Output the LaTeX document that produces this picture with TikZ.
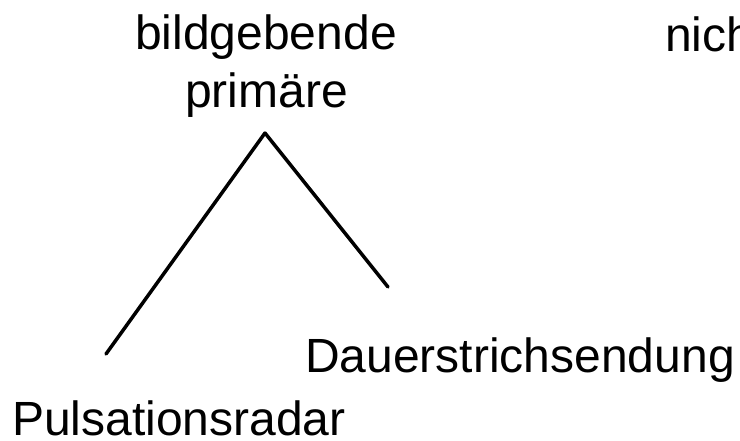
\documentclass[tikz,border=0pt]{standalone}
\usepackage{fontspec}
\setmainfont{Liberation Sans}
\begin{document}
\begin{tikzpicture}[x=1pt,y=-1pt,
  lbl/.style={anchor=base west,inner sep=0pt,text depth=0pt,font=\fontsize{48}{58}\selectfont},
  branch/.style={line width=3.5pt,line cap=round}]
\useasboundingbox (0,0) rectangle (740,441);
\node[lbl] (bild) at (135,50) {bildgebende};
\node[lbl] (prim) at (185,108) {primäre};
\node[lbl] (nich) at (665,52) {nich};
\node[lbl] (daue) at (305,372) {Dauerstrichsendung};
\node[lbl] (puls) at (12,435) {Pulsationsradar};
\coordinate (apex) at (265,133);
\coordinate (lend) at (106,354);
\coordinate (rend) at (388,287);
\draw[branch] (apex) -- (lend);
\draw[branch] (apex) -- (rend);
\end{tikzpicture}
\end{document}
